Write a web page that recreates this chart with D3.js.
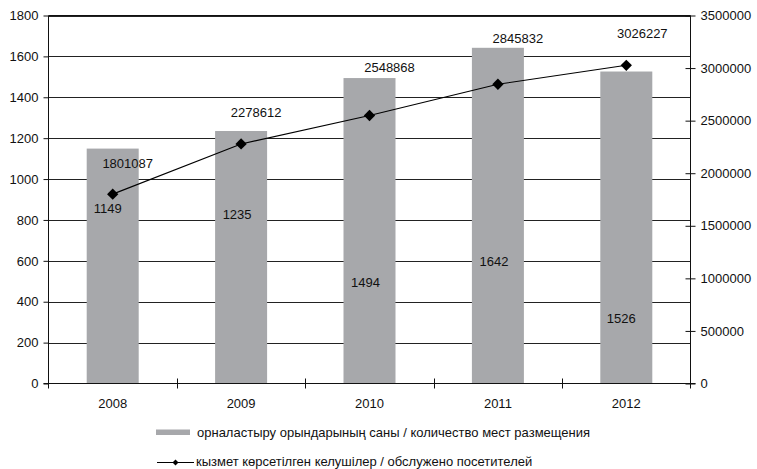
<!DOCTYPE html>
<html>
<head>
<meta charset="utf-8">
<script src="https://cdn.jsdelivr.net/npm/d3@7"></script>
<style>
  html, body { margin: 0; padding: 0; background: #fff; }
  svg { display: block; font-family: "Liberation Sans", Arial, sans-serif; }
</style>
</head>
<body>
<svg id="chart" width="757" height="469"></svg>
<script>
// ---- data ----
const years = ["2008", "2009", "2010", "2011", "2012"];
const places = [1149, 1235, 1494, 1642, 1526];                 // left axis (bars)
const visitors = [1801087, 2278612, 2548868, 2845832, 3026227]; // right axis (line)
const leftTicks = [0, 200, 400, 600, 800, 1000, 1200, 1400, 1600, 1800];
const rightTicks = [0, 500000, 1000000, 1500000, 2000000, 2500000, 3000000, 3500000];
const barLegend = "орналастыру орындарының саны / количество мест размещения";
const lineLegend = "кызмет көрсетілген келушілер / обслужено посетителей";

// ---- layout (manual label placement, pixels) ----
const barLabelNudge = [ {dx: -5, dy: 64}, {dx: -4, dy: 88}, {dx: -4, dy: 209}, {dx: -4, dy: 218}, {dx: -5, dy: 251} ];
const lineLabelNudge = [ {dx: 15, dy: -26}, {dx: 15, dy: -27}, {dx: 20, dy: -43.5}, {dx: 20, dy: -41}, {dx: 16, dy: -27} ];

(function () {
const svg = d3.select("#chart");
const pL = 48.5, pR = 690.5, pT = 15.5, pB = 383.5;
const fs = 13;

const x = d3.scaleBand().domain(years).range([pL, pR]);
const yL = d3.scaleLinear().domain([0, 1800]).range([pB, pT]);
const yR = d3.scaleLinear().domain([0, 3500000]).range([pB, pT]);
const barW = x.bandwidth() * 0.405;

// gridlines
svg.append("g").selectAll("line").data(leftTicks.filter(d => d > 0)).join("line")
  .attr("x1", pL).attr("x2", pR)
  .attr("y1", d => Math.round(yL(d)) + 0.5).attr("y2", d => Math.round(yL(d)) + 0.5)
  .attr("stroke", "#222").attr("stroke-width", 1);

// bars
svg.append("g").selectAll("rect").data(places).join("rect")
  .attr("x", (d, i) => x(years[i]) + x.bandwidth() / 2 - barW / 2)
  .attr("y", d => yL(d))
  .attr("width", barW)
  .attr("height", d => pB - yL(d))
  .attr("fill", "#a7a8ab");

// left axis
const axL = svg.append("g").attr("transform", `translate(${pL},0)`)
  .call(d3.axisLeft(yL).tickValues(leftTicks).tickSize(5).tickPadding(5).tickFormat(d3.format("d")));
axL.select(".domain").remove();
axL.selectAll("text").attr("font-size", fs).attr("fill", "#111").style("font-family", "Liberation Sans, Arial, sans-serif");
axL.selectAll("line").attr("stroke", "#111");

// right axis
const axR = svg.append("g").attr("transform", `translate(${pR},0)`)
  .call(d3.axisRight(yR).tickValues(rightTicks).tickSize(5).tickPadding(5).tickFormat(d3.format("d")));
axR.select(".domain").remove();
axR.selectAll("line").attr("x1", -5).attr("stroke", "#111");
axR.selectAll("text").attr("font-size", fs).attr("fill", "#111").attr("x", 10).style("font-family", "Liberation Sans, Arial, sans-serif");

// frame lines
const frame = svg.append("g").attr("stroke", "#111").attr("stroke-width", 1);
frame.append("line").attr("x1", pL).attr("x2", pL).attr("y1", pT).attr("y2", pB + 5);
frame.append("line").attr("x1", pR).attr("x2", pR).attr("y1", pT).attr("y2", pB + 5);
frame.append("line").attr("x1", pL).attr("x2", pR).attr("y1", pT).attr("y2", pT);
frame.append("line").attr("x1", pL - 5).attr("x2", pR + 5).attr("y1", pB).attr("y2", pB);

// bottom axis ticks at category boundaries
const bounds = years.slice(1).map(y => x(y));
frame.selectAll(".bt").data(bounds).join("line").attr("class", "bt")
  .attr("x1", d => Math.round(d) + 0.5).attr("x2", d => Math.round(d) + 0.5)
  .attr("y1", pB - 5).attr("y2", pB + 5);

// x labels
svg.append("g").selectAll("text").data(years).join("text")
  .attr("x", d => x(d) + x.bandwidth() / 2)
  .attr("y", pB + 24)
  .attr("text-anchor", "middle").attr("font-size", fs).attr("fill", "#111")
  .text(d => d);

// line
const cx = (d, i) => x(years[i]) + x.bandwidth() / 2;
const line = d3.line().x((d, i) => cx(d, i)).y(d => yR(d));
svg.append("path").datum(visitors).attr("d", line)
  .attr("fill", "none").attr("stroke", "#000").attr("stroke-width", 1.1);

const diamond = d3.symbol().type(d3.symbolSquare).size(64);
svg.append("g").selectAll("path").data(visitors).join("path")
  .attr("d", diamond)
  .attr("transform", (d, i) => `translate(${cx(d, i)},${yR(d)}) rotate(45)`)
  .attr("fill", "#000");

// bar labels
svg.append("g").selectAll("text").data(places).join("text")
  .attr("x", (d, i) => cx(d, i) + barLabelNudge[i].dx)
  .attr("y", (d, i) => yL(d) + barLabelNudge[i].dy)
  .attr("text-anchor", "middle").attr("font-size", fs).attr("fill", "#111")
  .text(d => d);

// line labels
svg.append("g").selectAll("text").data(visitors).join("text")
  .attr("x", (d, i) => cx(d, i) + lineLabelNudge[i].dx)
  .attr("y", (d, i) => yR(d) + lineLabelNudge[i].dy)
  .attr("text-anchor", "middle").attr("font-size", fs).attr("fill", "#111")
  .text(d => d);

// legend
const lg = svg.append("g");
lg.append("rect").attr("x", 156).attr("y", 429.5).attr("width", 34).attr("height", 5.5).attr("fill", "#a7a8ab");
lg.append("text").attr("x", 197).attr("y", 437).attr("font-size", fs).attr("fill", "#111").text(barLegend);
lg.append("line").attr("x1", 157).attr("x2", 194).attr("y1", 462.5).attr("y2", 462.5).attr("stroke", "#000");
lg.append("path").attr("d", d3.symbol().type(d3.symbolSquare).size(18))
  .attr("transform", "translate(175.5,462.5) rotate(45)").attr("fill", "#000");
lg.append("text").attr("x", 196).attr("y", 465.5).attr("font-size", fs).attr("fill", "#111").text(lineLegend);
})();
</script>
</body>
</html>
